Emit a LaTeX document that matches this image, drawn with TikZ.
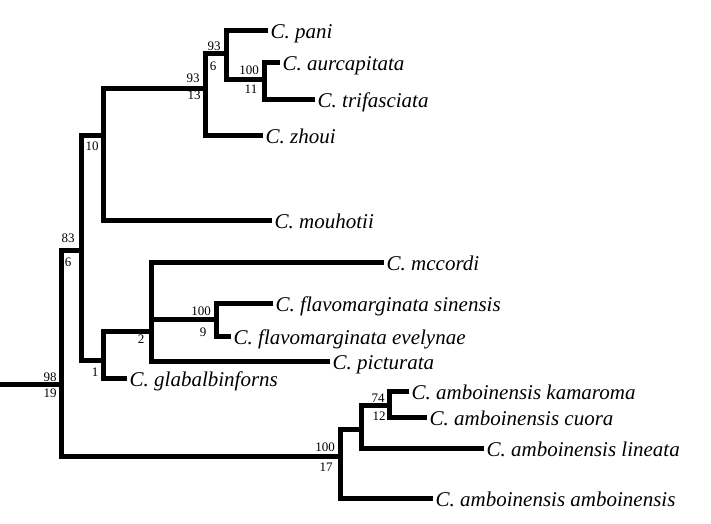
\documentclass[tikz,border=0pt]{standalone}
\usepackage{fontspec}
\setmainfont{Liberation Serif}

\begin{document}
\begin{tikzpicture}[
    x=1pt, y=-1pt,
    branch/.style={
        line width=5pt,
        line join=miter
    },
    taxon/.style={
        anchor=west,
        inner sep=2.5pt,
        text height=16pt,
        text depth=0pt,
        font=\fontsize{21}{21}\selectfont\itshape
    },
    support/.style={
        inner sep=0pt,
        font=\fontsize{13}{13}\selectfont
    }
]

\useasboundingbox (0,0) rectangle (711,523);

% Internal nodes
\coordinate (base) at (0,384);
\coordinate (R) at (61,384);
\coordinate (A) at (81,250);
\coordinate (B) at (103,135);
\coordinate (C) at (205,88);
\coordinate (D) at (226,53);
\coordinate (E) at (264,79);
\coordinate (F) at (103,360);
\coordinate (G) at (151,331);
\coordinate (H) at (216,319);
\coordinate (I) at (340,456);
\coordinate (J) at (361,429);
\coordinate (K) at (389,405);

% Taxa
\node[taxon] (pani) at (268,30) {C. pani};
\node[taxon] (aurcapitata) at (280,62) {C. aurcapitata};
\node[taxon] (trifasciata) at (315,99) {C. trifasciata};
\node[taxon] (zhoui) at (263,135) {C. zhoui};
\node[taxon] (mouhotii) at (272,220) {C. mouhotii};
\node[taxon] (mccordi) at (384,262) {C. mccordi};
\node[taxon] (sinensis) at (273,303) {C. flavomarginata sinensis};
\node[taxon] (evelynae) at (231,336) {C. flavomarginata evelynae};
\node[taxon] (picturata) at (330,361) {C. picturata};
\node[taxon] (glabalbinforns) at (127,378) {C. glabalbinforns};
\node[taxon] (kamaroma) at (409,391) {C. amboinensis kamaroma};
\node[taxon] (cuora) at (427,417) {C. amboinensis cuora};
\node[taxon] (lineata) at (484,448) {C. amboinensis lineata};
\node[taxon] (amboinensis) at (433,498) {C. amboinensis amboinensis};

% Branches
\draw[branch] (base) -- (R);
\draw[branch] (A) -- (R |- A) -- (R |- I) -- (I);
\draw[branch] (B) -- (A |- B) -- (A |- F) -- (F);
\draw[branch] (C) -- (B |- C) -- (B |- mouhotii.west) -- (mouhotii.west);
\draw[branch] (D) -- (C |- D) -- (C |- zhoui.west) -- (zhoui.west);
\draw[branch] (pani.west) -- (D |- pani.west) -- (D |- E) -- (E);
\draw[branch] (aurcapitata.west) -- (E |- aurcapitata.west) -- (E |- trifasciata.west) -- (trifasciata.west);
\draw[branch] (G) -- (F |- G) -- (F |- glabalbinforns.west) -- (glabalbinforns.west);
\draw[branch] (mccordi.west) -- (G |- mccordi.west) -- (G |- picturata.west) -- (picturata.west);
\draw[branch] (G |- H) -- (H);
\draw[branch] (sinensis.west) -- (H |- sinensis.west) -- (H |- evelynae.west) -- (evelynae.west);
\draw[branch] (J) -- (I |- J) -- (I |- amboinensis.west) -- (amboinensis.west);
\draw[branch] (K) -- (J |- K) -- (J |- lineata.west) -- (lineata.west);
\draw[branch] (kamaroma.west) -- (K |- kamaroma.west) -- (K |- cuora.west) -- (cuora.west);

% Support values
\node[support] (R-up) at (50,377) {98};
\node[support] (R-low) at (50,393) {19};
\node[support] (A-up) at (68,238) {83};
\node[support] (A-low) at (68,262) {6};
\node[support] (B-low) at (92,146) {10};
\node[support] (C-up) at (193,78) {93};
\node[support] (C-low) at (194,95) {13};
\node[support] (D-up) at (214,46) {93};
\node[support] (D-low) at (213,66) {6};
\node[support] (E-up) at (249,70) {100};
\node[support] (E-low) at (251,89) {11};
\node[support] (F-low) at (95,372) {1};
\node[support] (G-low) at (141,339) {2};
\node[support] (H-up) at (201,311) {100};
\node[support] (H-low) at (203,332) {9};
\node[support] (I-up) at (325,447) {100};
\node[support] (I-low) at (326,467) {17};
\node[support] (K-up) at (378,398) {74};
\node[support] (K-low) at (379,416) {12};

\end{tikzpicture}
\end{document}
